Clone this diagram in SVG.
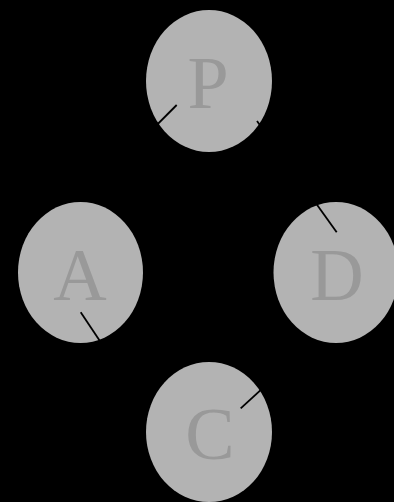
<svg xmlns="http://www.w3.org/2000/svg" width="394" height="502" viewBox="0 0 394 502">
  <style>
    .node ellipse { fill: #b3b3b3; stroke: none; }
    .node text { font-family: "Liberation Serif", "Times New Roman", serif; font-size: 74px; fill: #999999; text-anchor: middle; }
    .edge { stroke: #000000; stroke-width: 1.8; fill: none; }
  </style>
  <rect x="0" y="0" width="394" height="502" fill="#000000"/>

  <g id="node-P" class="node">
    <ellipse cx="209" cy="81" rx="63" ry="71"/>
    <text x="208" y="108">P</text>
  </g>
  <g id="node-A" class="node">
    <ellipse cx="80.5" cy="272.5" rx="62.5" ry="70.5"/>
    <text x="80" y="300">A</text>
  </g>
  <g id="node-D" class="node">
    <ellipse cx="336" cy="272.5" rx="62.5" ry="70.5"/>
    <text x="337" y="300">D</text>
  </g>
  <g id="node-C" class="node">
    <ellipse cx="209" cy="432" rx="63" ry="70"/>
    <text x="210" y="459">C</text>
  </g>

  <!-- connectors drawn over the nodes; each stops at the outer edge of its target -->
  <g id="connectors">
    <line class="edge" x1="176.7" y1="105" x2="84" y2="198"/>
    <line class="edge" x1="336.7" y1="232.3" x2="257" y2="121"/>
    <line class="edge" x1="80.7" y1="312.3" x2="145" y2="408.5"/>
    <line class="edge" x1="240.7" y1="408.3" x2="312" y2="343"/>
  </g>
</svg>
